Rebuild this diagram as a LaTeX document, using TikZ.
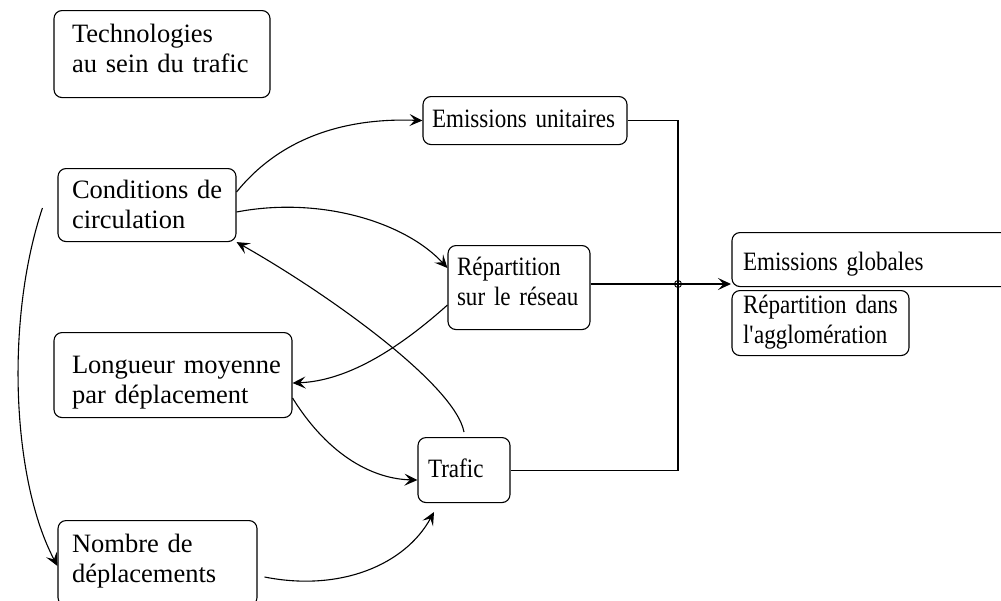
\documentclass[tikz,border=0pt]{standalone}
\usepackage{fontspec}
\setmainfont{Liberation Serif}
\newfontfamily\narrowfont[FakeStretch=0.87]{Liberation Serif}
\usetikzlibrary{arrows.meta}
\begin{document}
\begin{tikzpicture}[x=1pt,y=-1pt,
  box/.style={draw,line width=1.1pt,rounded corners=8pt,inner xsep=10pt,inner ysep=0pt,
    align=left,font=\fontsize{26.5}{30}\selectfont,anchor=north},
  nbox/.style={box,font=\fontsize{26.5}{30}\selectfont\narrowfont},
  link/.style={line width=1.1pt},
  arr/.style={link,-{Stealth[length=13pt,width=12pt,inset=5.5pt]}}]
\useasboundingbox (0,0) rectangle (1001,600);
\node[box,inner xsep=18pt,text width=180pt,text height=32pt,text depth=55pt] (tech) at (162,10) {Technologies\\au~sein~du~trafic};
\node[nbox,inner xsep=9pt,text width=186pt,text height=31pt,text depth=17pt] (emu) at (525,96) {Emissions~unitaires};
\node[box,inner xsep=14pt,text width=150pt,text height=30pt,text depth=43pt] (cond) at (147,168) {Conditions~de\\circulation};
\node[nbox,inner xsep=9pt,text width=124pt,text height=30pt,text depth=54pt] (rep) at (519,245) {Répartition\\sur~le~réseau};
\node[nbox,inner xsep=11pt,text width=258pt,text height=38pt,text depth=16pt] (eglob) at (872,232) {Emissions~globales};
\node[nbox,inner xsep=11pt,text width=155pt,text height=23pt,text depth=42pt] (ragg) at (820.5,290) {Répartition~dans\\l\textquotesingle agglomération};
\node[box,inner xsep=18pt,text width=202pt,text height=41pt,text depth=44pt] (long) at (173,332) {Longueur~moyenne\\par~déplacement};
\node[nbox,inner xsep=10pt,text width=72pt,text height=40pt,text depth=25pt] (trafic) at (464,437) {Trafic};
\node[box,inner xsep=14pt,text width=171pt,text height=32pt,text depth=53pt] (nombre) at (157.5,520) {Nombre~de\\déplacements};
\coordinate (J) at (678,284);
\coordinate (A) at (731,284);
\coordinate (tin) at (434,512);
% straight connectors
\draw[link] (emu.east) -| (J) |- (trafic.east);
\draw[link] (rep.east |- J) -- (J);
\draw[arr] (J) -- (A);
\draw[line width=0.9pt] (J) circle (3.5pt);
% curved connectors
\draw[arr] (cond.east |- 0,192) .. controls (285,132) and (355,118) .. (emu.west);
\draw[arr] (cond.east |- 0,212) .. controls (320,196) and (405,222) .. (rep.west |- 0,268);
\draw[arr] (trafic.north |- 0,432) .. controls (455,385) and (330,295) .. (cond.south east);
\draw[arr] (rep.west |- 0,305) .. controls (395,352) and (345,381) .. (long.east |- 0,383);
\draw[arr] (long.east |- 0,398) .. controls (330,458) and (375,479) .. (trafic.west |- 0,480);
\draw[arr] (cond.west |- 0,208) ++(-15,0) .. controls (5,320) and (12,480) .. (nombre.west |- 0,566);
\draw[arr] (nombre.east |- 0,577) ++(7,0) .. controls (340,592) and (405,565) .. (tin);
\end{tikzpicture}
\end{document}
